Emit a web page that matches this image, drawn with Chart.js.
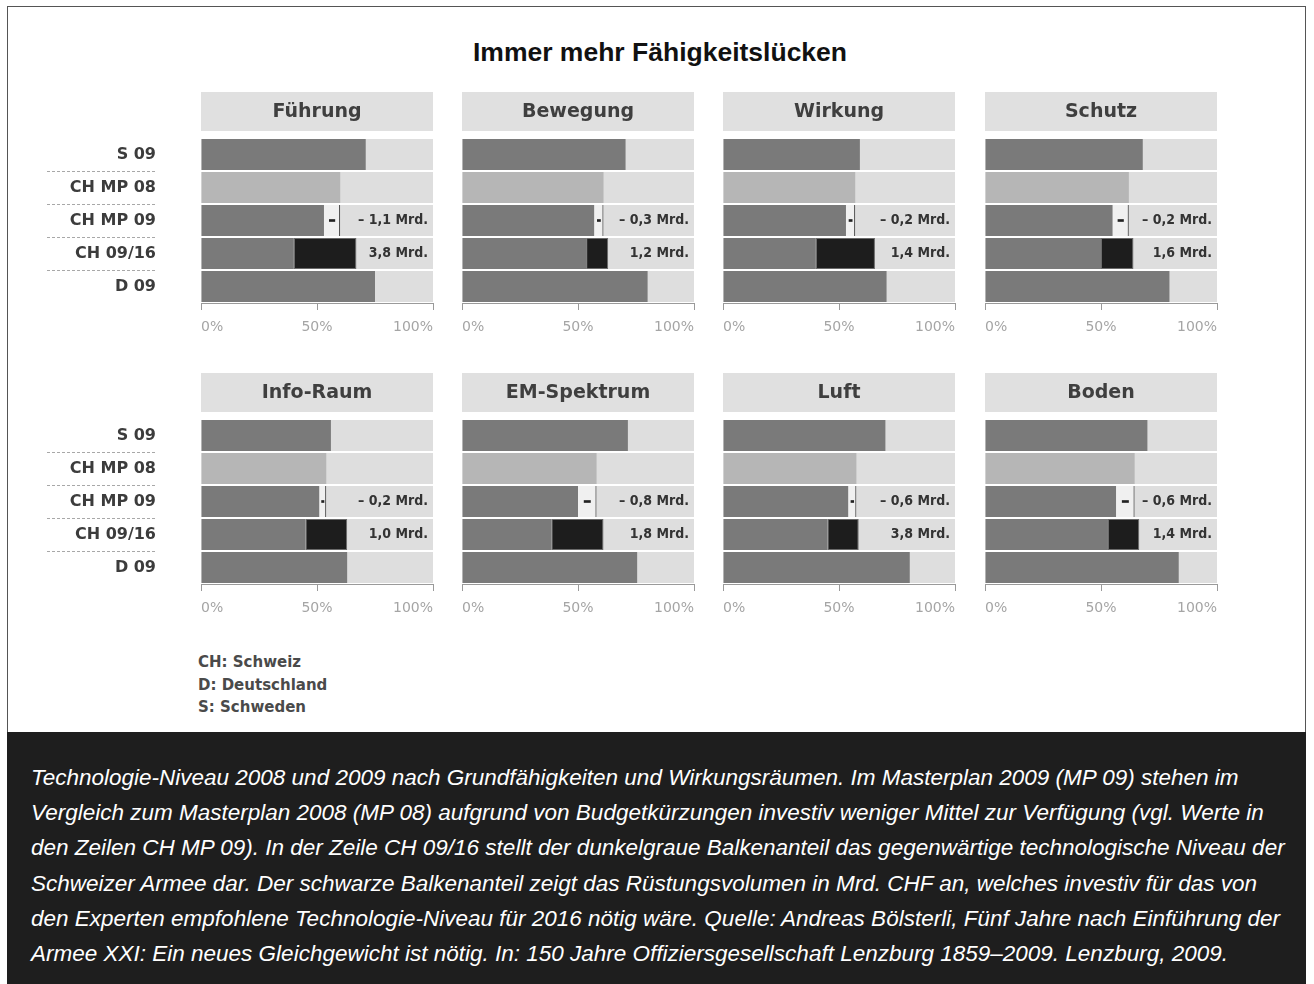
<!DOCTYPE html>
<html>
<head>
<meta charset="utf-8">
<script src="https://cdn.jsdelivr.net/npm/chart.js@4.4.1/dist/chart.umd.min.js"></script>
<style>
  body { margin: 0; width: 1314px; height: 984px; background: #fff; position: relative; overflow: hidden; font-family: 'Liberation Sans', Arial, sans-serif; }
  #frame { position: absolute; left: 7px; top: 6px; width: 1297px; height: 726px; border: 1px solid #555; border-bottom: none; }
  #title { position: absolute; left: 0; width: 1320px; top: 37px; text-align: center; font-weight: bold; font-size: 26.5px; line-height: 30px; color: #111; }
  canvas { position: absolute; }
  #legend { position: absolute; left: 198px; top: 651px; font: bold 15px 'DejaVu Sans', sans-serif; color: #4a4a4a; line-height: 22.5px; }
  #caption { position: absolute; left: 7px; top: 732px; width: 1299px; height: 252px; background: #1e1e1e; color: #fff; font-style: italic; font-size: 22.5px; line-height: 35.2px; box-sizing: border-box; padding: 28px 0 0 24px; white-space: nowrap; }
</style>
</head>
<body>
<div id="frame"></div>
<div id="title">Immer mehr Fähigkeitslücken</div>
<div id="legend">CH: Schweiz<br>D: Deutschland<br>S: Schweden</div>
<div id="caption">Technologie-Niveau 2008 und 2009 nach Grundfähigkeiten und Wirkungsräumen. Im Masterplan 2009 (MP 09) stehen im<br>Vergleich zum Masterplan 2008 (MP 08) aufgrund von Budgetkürzungen investiv weniger Mittel zur Verfügung (vgl. Werte in<br>den Zeilen CH MP 09). In der Zeile CH 09/16 stellt der dunkelgraue Balkenanteil das gegenwärtige technologische Niveau der<br>Schweizer Armee dar. Der schwarze Balkenanteil zeigt das Rüstungsvolumen in Mrd. CHF an, welches investiv für das von<br>den Experten empfohlene Technologie-Niveau für 2016 nötig wäre. Quelle: Andreas Bölsterli, Fünf Jahre nach Einführung der<br>Armee XXI: Ein neues Gleichgewicht ist nötig. In: 150 Jahre Offiziersgesellschaft Lenzburg 1859–2009. Lenzburg, 2009.</div>
<script>
const panelNames = ['Führung', 'Bewegung', 'Wirkung', 'Schutz', 'Info-Raum', 'EM-Spektrum', 'Luft', 'Boden'];
const rowLabels = ['S 09', 'CH MP 08', 'CH MP 09', 'CH 09/16', 'D 09'];
const xTicks = [0, 50, 100];

// technology level in %, one value per panel
const s09 = [71, 70.5, 59, 68, 56, 71.5, 70, 70];
const chMp08 = [60, 61, 57, 62, 54, 58, 57.5, 64.5];
const chMp09 = [53, 57, 53, 55, 51, 50, 54, 56.5];
const ch0916Now = [40, 53.5, 40, 50, 45, 38.5, 45, 53];
const ch0916Target = [67, 63, 65.5, 64, 63, 61, 58.5, 66.5];
const d09 = [75, 80, 70.5, 79.5, 63, 75.5, 80.5, 83.5];

const cutLabels = ['– 1,1 Mrd.', '– 0,3 Mrd.', '– 0,2 Mrd.', '– 0,2 Mrd.', '– 0,2 Mrd.', '– 0,8 Mrd.', '– 0,6 Mrd.', '– 0,6 Mrd.'];
const needLabels = ['3,8 Mrd.', '1,2 Mrd.', '1,4 Mrd.', '1,6 Mrd.', '1,0 Mrd.', '1,8 Mrd.', '3,8 Mrd.', '1,4 Mrd.'];

const DARK = '#7a7a7a';
const LIGHT = '#b6b6b6';
const TRACK = '#dedede';

const panelLeft = [201, 462, 723, 985];
const panelTop = [92, 373];

const headerPlugin = {
  id: 'header',
  beforeDraw(chart, args, opts) {
    const { ctx, chartArea: a } = chart;
    ctx.save();
    ctx.fillStyle = '#e0e0e0';
    ctx.fillRect(a.left, 0, a.right - a.left, 39);
    ctx.fillStyle = '#3f3f3f';
    ctx.font = 'bold 19px "DejaVu Sans", sans-serif';
    ctx.textAlign = 'center';
    ctx.textBaseline = 'middle';
    ctx.fillText(opts.text, (a.left + a.right) / 2, 20);
    ctx.restore();
  }
};

const mrdPlugin = {
  id: 'mrd',
  afterDatasetsDraw(chart, args, opts) {
    const { ctx, chartArea: a, scales: { y } } = chart;
    ctx.save();
    ctx.font = 'bold 14px "DejaVu Sans Condensed", "DejaVu Sans", sans-serif';
    ctx.fillStyle = '#333';
    ctx.textAlign = 'right';
    ctx.textBaseline = 'middle';
    ctx.fillText(opts.cut, a.right - 5, y.getPixelForValue(2));
    ctx.fillText(opts.need, a.right - 5, y.getPixelForValue(3));
    ctx.restore();
  }
};

const sepPlugin = {
  id: 'separators',
  afterDraw(chart, args, opts) {
    if (!opts.show) return;
    const { ctx, scales: { y } } = chart;
    ctx.save();
    ctx.strokeStyle = '#a8a8a8';
    ctx.lineWidth = 1;
    ctx.setLineDash([3, 2]);
    for (let k = 0; k < rowLabels.length - 1; k++) {
      const yy = Math.round((y.getPixelForValue(k) + y.getPixelForValue(k + 1)) / 2) + 0.5;
      ctx.beginPath();
      ctx.moveTo(7, yy);
      ctx.lineTo(116, yy);
      ctx.stroke();
    }
    ctx.restore();
  }
};

panelNames.forEach((name, i) => {
  const col = i % 4, row = Math.floor(i / 4);
  const first = col === 0;
  const axisW = first ? 161 : 0;
  const cv = document.createElement('canvas');
  cv.width = axisW + 232 + 3;
  cv.height = 248;
  cv.style.left = (panelLeft[col] - axisW) + 'px';
  cv.style.top = panelTop[row] + 'px';
  document.body.appendChild(cv);

  const mid = (chMp09[i] + chMp08[i]) / 2;
  const half = (chMp08[i] - chMp09[i]) * 0.17;

  new Chart(cv.getContext('2d'), {
    type: 'bar',
    data: {
      labels: rowLabels,
      datasets: [
        { label: 'dash', data: [null, null, [mid - half, mid + half], null, null], backgroundColor: '#222', barThickness: 2, order: 1 },
        { label: 'need', data: [null, null, null, [ch0916Now[i], ch0916Target[i]], null], backgroundColor: '#1d1d1d', borderColor: '#6a6a6a', borderWidth: 1, borderSkipped: false, order: 2 },
        { label: 'cut', data: [null, null, [chMp09[i], chMp08[i]], null, null], backgroundColor: '#f0f0f0', borderColor: '#555', borderWidth: { left: 0, right: 1.2, top: 0, bottom: 0 }, borderSkipped: false, order: 3 },
        { label: 'level', data: [s09[i], chMp08[i], chMp09[i], ch0916Now[i], d09[i]], backgroundColor: [DARK, LIGHT, DARK, DARK, DARK], order: 4 },
        { label: 'track', data: rowLabels.map(() => [0, 100]), backgroundColor: TRACK, order: 5 }
      ]
    },
    options: {
      responsive: false,
      animation: false,
      indexAxis: 'y',
      layout: { padding: { top: 46, right: 3, left: 0, bottom: 0 } },
      datasets: { bar: { grouped: false, barPercentage: 0.94, categoryPercentage: 1 } },
      plugins: {
        legend: { display: false },
        tooltip: { enabled: false },
        header: { text: name },
        mrd: { cut: cutLabels[i], need: needLabels[i] },
        separators: { show: first }
      },
      scales: {
        x: {
          min: 0, max: 100,
          afterBuildTicks: s => { s.ticks = xTicks.map(v => ({ value: v })); },
          afterFit: s => { s.height = 37; s.paddingLeft = 0; s.paddingRight = 0; },
          grid: { drawOnChartArea: false, tickLength: 7, color: '#9a9a9a' },
          border: { color: '#9a9a9a' },
          ticks: { align: 'inner', padding: 9, color: '#a5a5a5', font: { family: 'DejaVu Sans', size: 14 }, callback: v => v + '%' }
        },
        y: {
          display: first,
          offset: true,
          afterFit: s => { if (first) s.width = 161; s.paddingTop = 0; s.paddingBottom = 0; },
          grid: { display: false, drawTicks: false },
          border: { display: false },
          ticks: { padding: 45, color: '#3c3c3c', font: { family: 'DejaVu Sans', size: 16, weight: 'bold' } }
        }
      }
    },
    plugins: [headerPlugin, mrdPlugin, sepPlugin]
  });
});
</script>
</body>
</html>
